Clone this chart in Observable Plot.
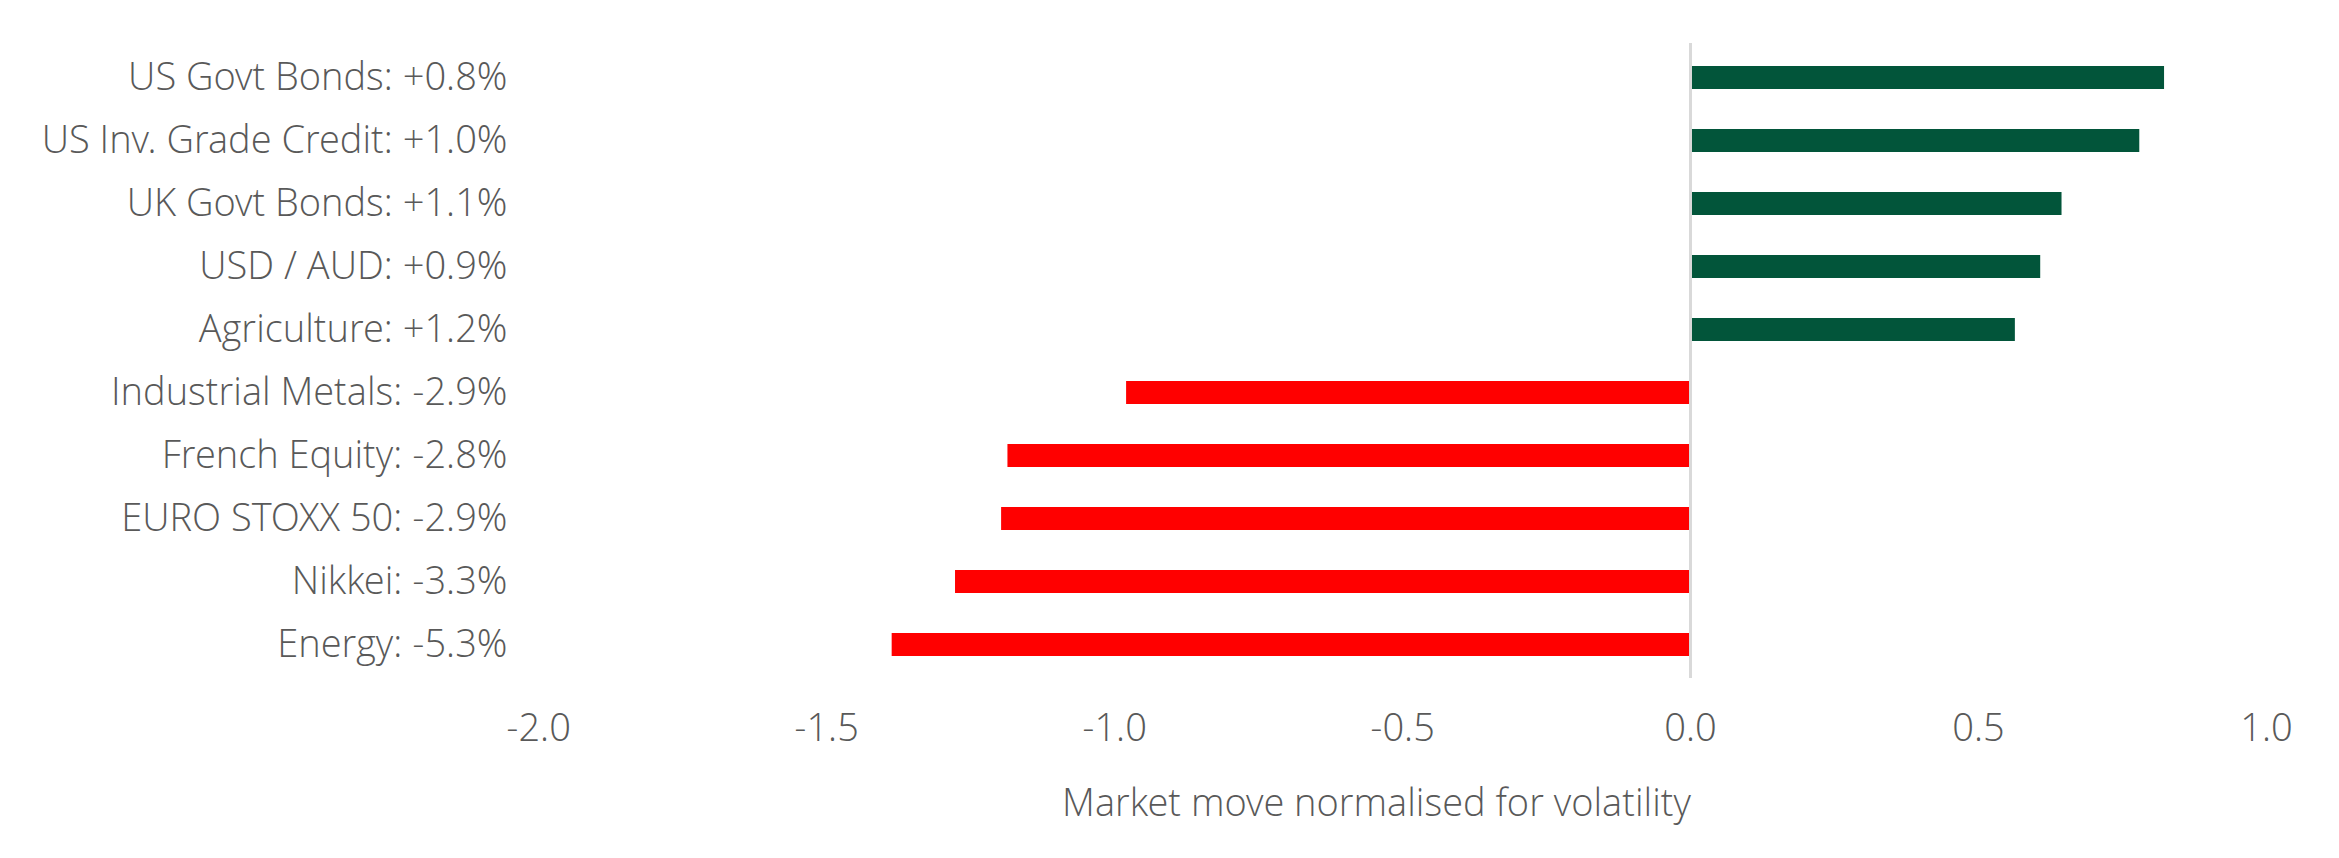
<!DOCTYPE html>
<html>
<head>
<meta charset="utf-8">
<script src="https://cdn.jsdelivr.net/npm/d3@7"></script>
<script src="https://cdn.jsdelivr.net/npm/@observablehq/plot@0.6"></script>
<style>
  html, body { margin: 0; padding: 0; background: #ffffff; }
  #chart { width: 2339px; height: 858px; }
</style>
</head>
<body>
<div id="chart"></div>
<script>
const categories = [
  "US Govt Bonds: +0.8%",
  "US Inv. Grade Credit: +1.0%",
  "UK Govt Bonds: +1.1%",
  "USD / AUD: +0.9%",
  "Agriculture: +1.2%",
  "Industrial Metals: -2.9%",
  "French Equity: -2.8%",
  "EURO STOXX 50: -2.9%",
  "Nikkei: -3.3%",
  "Energy: -5.3%"
];
const values = [0.823, 0.780, 0.645, 0.608, 0.564, -0.979, -1.185, -1.196, -1.276, -1.386];
const xTicks = [-2, -1.5, -1, -0.5, 0, 0.5, 1];
const xLabel = "Market move normalised for volatility";

const data = categories.map((c, i) => ({category: c, value: values[i]}));

const chart = Plot.plot({
  width: 2339,
  height: 858,
  marginTop: 43,
  marginBottom: 180,
  marginLeft: 538,
  marginRight: 73,
  style: {fontFamily: "'Open Sans Light', 'Open Sans', sans-serif", fontSize: "38px", fontWeight: 300, color: "#595959", background: "#ffffff"},
  x: {domain: [-2, 1]},
  y: {domain: categories, paddingInner: 0.64, paddingOuter: 0.32},
  marks: [
    Plot.barX(data, {
      x: "value",
      y: "category",
      fill: d => d.value >= 0 ? "#02553a" : "#ff0000"
    }),
    Plot.ruleX([0], {stroke: "#d9d9d9", strokeWidth: 3}),
    Plot.axisY({tickSize: 0, tickPadding: 31, label: null}),
    Plot.axisX({
      ticks: xTicks,
      tickSize: 0,
      tickPadding: 36,
      tickFormat: d => d.toFixed(1),
      label: null
    }),
    Plot.text([xLabel], {
      text: d => d,
      frameAnchor: "bottom",
      lineAnchor: "middle",
      dy: 125,
      dx: -26,
      fill: "currentColor"
    })
  ]
});
document.getElementById("chart").appendChild(chart);
</script>
</body>
</html>
